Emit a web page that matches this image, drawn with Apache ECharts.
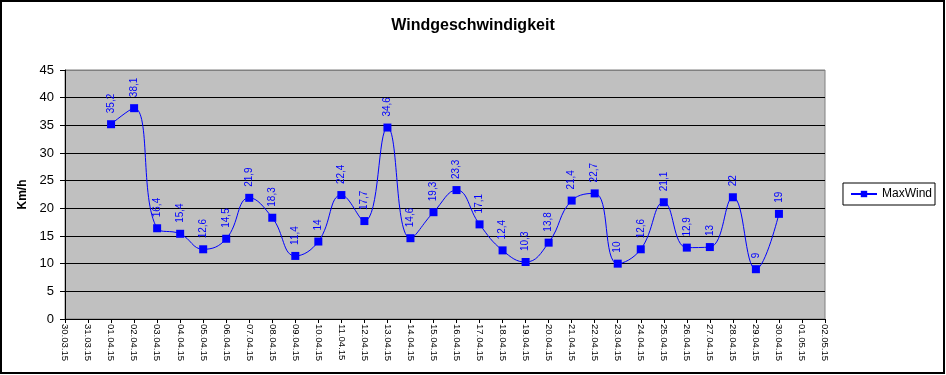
<!DOCTYPE html>
<html><head><meta charset="utf-8">
<script src="https://cdn.jsdelivr.net/npm/echarts@6/dist/echarts.min.js"></script>
<style>html,body{margin:0;padding:0;background:#fff}#c{width:946px;height:375px}</style>
</head><body><div id="c"></div>
<script>
const categories = ['30.03.15','31.03.15','01.04.15','02.04.15','03.04.15','04.04.15','05.04.15','06.04.15','07.04.15','08.04.15','09.04.15','10.04.15','11.04.15','12.04.15','13.04.15','14.04.15','15.04.15','16.04.15','17.04.15','18.04.15','19.04.15','20.04.15','21.04.15','22.04.15','23.04.15','24.04.15','25.04.15','26.04.15','27.04.15','28.04.15','29.04.15','30.04.15','01.05.15','02.05.15'];
const maxWind = [null,null,35.2,38.1,16.4,15.4,12.6,14.5,21.9,18.3,11.4,14,22.4,17.7,34.6,14.6,19.3,23.3,17.1,12.4,10.3,13.8,21.4,22.7,10,12.6,21.1,12.9,13,22,9,19,null,null];
const yTicks = [0,5,10,15,20,25,30,35,40,45];

const chart = echarts.init(document.getElementById('c'));
const F = 'Arial, "Liberation Sans", sans-serif';
chart.setOption({
  animation: false,
  backgroundColor: '#fff',
  title: {text: 'Windgeschwindigkeit', left: 'center', top: 13,
    textStyle: {fontFamily: F, fontSize: 16, fontWeight: 'bold', color: '#000'}},
  graphic: [{type: 'rect', shape: {x: 1, y: 1, width: 943, height: 372},
    style: {fill: null, stroke: '#000', lineWidth: 2}, silent: true}],
  legend: {right: 11, top: 183, orient: 'vertical', borderColor: '#000', borderWidth: 1,
    backgroundColor: '#fff', padding: [5, 3, 5, 7], itemWidth: 26, itemHeight: 8,
    textStyle: {fontFamily: F, fontSize: 12, color: '#000'}, data: ['MaxWind']},
  grid: {left: 65, right: 121, top: 70, bottom: 56, show: true,
    backgroundColor: '#C0C0C0', borderColor: '#808080', borderWidth: 1},
  xAxis: {type: 'category', data: categories, boundaryGap: false,
    axisLine: {lineStyle: {color: '#000', width: 1}},
    axisTick: {show: true, length: 4, lineStyle: {color: '#000'}, interval: 0},
    axisLabel: {rotate: -90, interval: 0, fontFamily: F, fontSize: 9.5, color: '#000', margin: 5},
    splitLine: {show: false}},
  yAxis: {type: 'value', min: yTicks[0], max: yTicks[yTicks.length-1], interval: 5,
    name: 'Km/h', nameLocation: 'middle', nameGap: 31,
    nameTextStyle: {fontFamily: F, fontSize: 12, fontWeight: 'bold', color: '#000'},
    axisLine: {show: true, lineStyle: {color: '#000'}},
    axisTick: {show: true, length: 5, lineStyle: {color: '#000'}},
    axisLabel: {fontFamily: F, fontSize: 13, color: '#000', margin: 11},
    splitLine: {lineStyle: {color: ['#000','#000','#000','#000','#000','#000','#000','#000','#000','#808080'], width: 1}}},
  series: [{name: 'MaxWind', type: 'line', data: maxWind, smooth: 0.45,
    connectNulls: false, symbol: 'rect', symbolSize: 8, showAllSymbol: true,
    lineStyle: {color: '#0000FF', width: 1}, itemStyle: {color: '#0000FF'},
    label: {show: true, position: 'top', rotate: 90, align: 'left', verticalAlign: 'middle',
      distance: 7, fontFamily: F, fontSize: 10, color: '#0000FF',
      formatter: p => String(p.value).replace('.', ',')}}]
});
</script></body></html>
